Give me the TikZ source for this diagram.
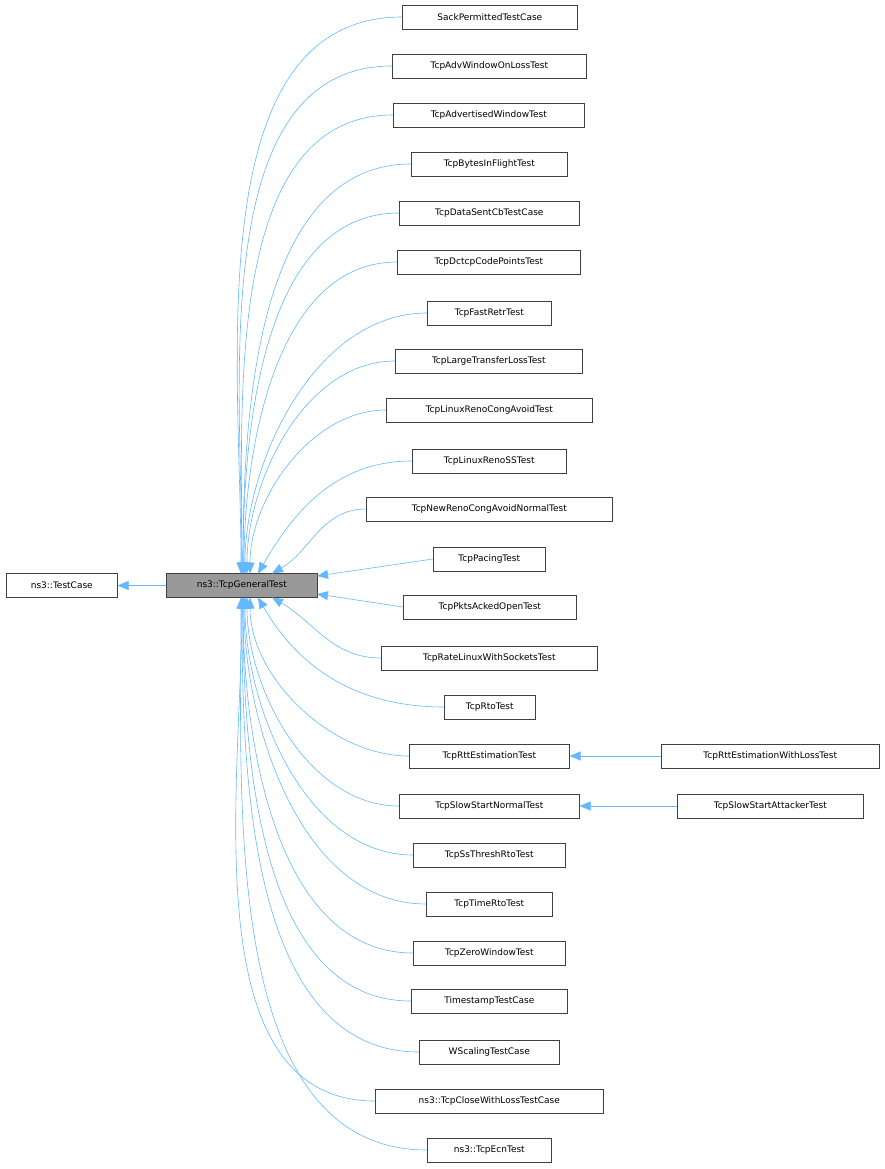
\documentclass[tikz,border=0pt]{standalone}
\usepackage{fontspec}
\setmainfont{DejaVu Sans}
\usetikzlibrary{arrows.meta}
\definecolor{edgec}{HTML}{63B8FF}
\begin{document}
\begin{tikzpicture}[x=1pt,y=-1pt,
  cls/.style={draw=black!75,fill=white,line width=0.6pt,minimum height=24pt,inner sep=0pt,font=\fontsize{9pt}{10pt}\selectfont,anchor=west},
  edge/.style={draw=edgec,line width=0.6pt,-{Triangle[length=11pt,width=9pt,fill=edgec]}}]
\useasboundingbox (0,0) rectangle (885,1169);
\node[cls,minimum width=111pt] (tc) at (6,585.5) {ns3::TestCase};
\node[cls,minimum width=151pt,fill=black!40] (gen) at (166,585.5) {ns3::TcpGeneralTest};
\draw[edge] (gen.west) -- (tc.east);
\foreach \n/\xl/\xr/\y/\lab in {
 1/402/577/17/SackPermittedTestCase,
 2/392/586/66/TcpAdvWindowOnLossTest,
 3/393/584/115/TcpAdvertisedWindowTest,
 4/411/567/164/TcpBytesInFlightTest,
 5/399/579/213/TcpDataSentCbTestCase,
 6/397/580/262/TcpDctcpCodePointsTest,
 7/427/551/313/TcpFastRetrTest,
 8/395/582/361/TcpLargeTransferLossTest,
 9/386/592/410/TcpLinuxRenoCongAvoidTest,
 10/412/566/461/TcpLinuxRenoSSTest,
 11/366/612/509/TcpNewRenoCongAvoidNormalTest,
 12/433/545/559/TcpPacingTest,
 13/403/576/607/TcpPktsAckedOpenTest,
 14/381/597/658/TcpRateLinuxWithSocketsTest,
 15/444/535/707/TcpRtoTest,
 16/409/569/756/TcpRttEstimationTest,
 17/399/579/806/TcpSlowStartNormalTest,
 18/413/565/855/TcpSsThreshRtoTest,
 19/426/552/904/TcpTimeRtoTest,
 20/413/565/953/TcpZeroWindowTest,
 21/411/567/1001/TimestampTestCase,
 22/419/559/1052/WScalingTestCase,
 23/375/603/1101/ns3::TcpCloseWithLossTestCase,
 24/427/551/1150/ns3::TcpEcnTest}{
  \pgfmathsetmacro{\w}{\xr-\xl}
  \node[cls,minimum width=\w pt] (c\n) at (\xl,\y) {\lab};
}
\node[cls,minimum width=218pt] (r1) at (661,756) {TcpRttEstimationWithLossTest};
\node[cls,minimum width=186pt] (r2) at (677,806) {TcpSlowStartAttackerTest};
\draw[edge] (r1.west) -- (c16.east);
\draw[edge] (r2.west) -- (c17.east);
% upper children
\foreach \n/\tx in {1/241,2/242,3/242,4/243,5/243,6/244,7/245,8/247,9/250}{
  \draw[edge] (c\n.west) to[out=180,in=90,looseness=0.9] (\tx,573.5);
}
\draw[edge] (c10.west) to[out=180,in=60] (258,573.5);
\draw[edge] (c11.west) to[out=180,in=30] (272,573.5);
\draw[edge] (c12.west) -- (317,576);
\draw[edge] (c13.west) -- (317,594);
\draw[edge] (c14.west) to[out=180,in=-30] (272,597.5);
\draw[edge] (c15.west) to[out=180,in=-60] (258,597.5);
\foreach \n/\tx in {16/250,17/247,18/245,19/244,20/243,21/243,22/242,23/242,24/241}{
  \draw[edge] (c\n.west) to[out=180,in=-90,looseness=0.9] (\tx,597.5);
}
\end{tikzpicture}
\end{document}
